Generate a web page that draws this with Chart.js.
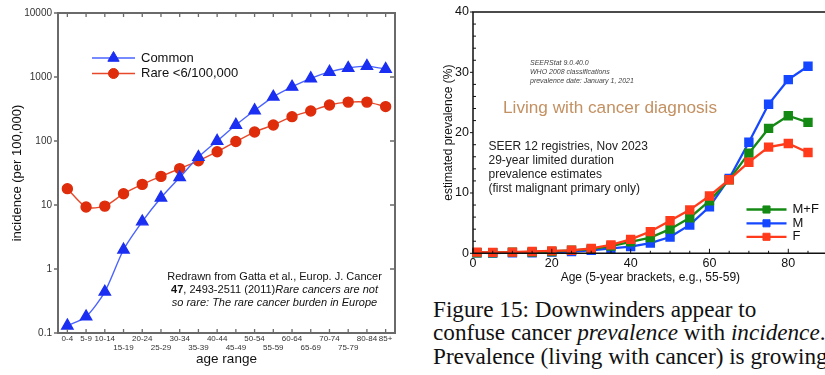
<!DOCTYPE html>
<html>
<head>
<meta charset="utf-8">
<script src="https://cdn.jsdelivr.net/npm/chart.js@4.4.1/dist/chart.umd.min.js"></script>
<style>
html, body { margin: 0; padding: 0; background: #fff; width: 825px; height: 375px; overflow: hidden; }
#left { position: absolute; left: 0; top: 0; }
#right { position: absolute; left: 420px; top: 0; }
#caption { position: absolute; left: 433px; top: 298px; font-family: "Liberation Serif", serif; font-size: 23.2px; line-height: 23.3px; white-space: nowrap; color: #111; }
</style>
</head>
<body>
<canvas id="left" width="420" height="375"></canvas>
<canvas id="right" width="415" height="290"></canvas>
<div id="caption">Figure 15: Downwinders appear to<br>confuse cancer <i>prevalence</i> with <i>incidence</i>.<br>Prevalence (living with cancer) is growing</div>
<script>
// left panel: incidence per 100,000 by age group (Gatta et al.)
const ageGroups = ['0-4','5-9','10-14','15-19','20-24','25-29','30-34','35-39','40-44','45-49',
                   '50-54','55-59','60-64','65-69','70-74','75-79','80-84','85+'];
const ageLabelRow = [1,1,1,2,1,2,1,2,1,2,1,2,1,2,1,2,1,1];
const commonRate = [0.13,0.18,0.44,2.0,5.5,13,27,56,100,178,300,490,700,950,1200,1380,1480,1330];
const rareRate = [18,9.3,9.6,15,21,28,37,49,68,98,138,178,240,295,365,405,405,345];
const incidenceTicks = [0.1,1,10,100,1000,10000];

// right panel: SEER 12 estimated prevalence (%)
const ageStart = [1,5,10,15,20,25,30,35,40,45,50,55,60,65,70,75,80,85];
const prevBoth = [0.1,0.1,0.2,0.2,0.3,0.5,0.7,1.2,1.9,2.6,4.0,5.9,8.7,12.2,16.6,20.7,22.8,21.7];
const prevMale = [0.1,0.05,0.1,0.1,0.2,0.3,0.5,0.8,1.1,1.7,2.7,4.7,7.7,12.4,18.4,24.7,28.8,31.0];
const prevFemale = [0.2,0.15,0.2,0.3,0.4,0.5,0.8,1.4,2.3,3.6,5.4,7.2,9.5,12.2,15.1,17.6,18.2,16.7];

Chart.defaults.font.family = '"Liberation Sans", Arial, sans-serif';
Chart.defaults.color = '#222';
Chart.defaults.animation = false;

function legendRow(ctx, ds, x0, x1, y, text, font) {
    ctx.save();
    ctx.strokeStyle = ds.borderColor;
    ctx.lineWidth = ds.borderWidth;
    ctx.beginPath(); ctx.moveTo(x0, y); ctx.lineTo(x1, y); ctx.stroke();
    ctx.fillStyle = ds.pointBackgroundColor;
    ctx.strokeStyle = ds.pointBorderColor;
    ctx.lineWidth = 1;
    Chart.helpers.drawPoint(ctx, {pointStyle: ds.pointStyle, radius: ds.pointRadius, rotation: 0, borderWidth: 1}, (x0 + x1) / 2, y);
    ctx.fillStyle = '#111';
    ctx.font = font;
    ctx.textBaseline = 'middle';
    ctx.textAlign = 'left';
    ctx.fillText(text, x1 + 6, y);
    ctx.restore();
}

const leftDecor = {
    id: 'leftDecor',
    afterDatasetsDraw(chart) {
        const ctx = chart.ctx, a = chart.chartArea;
        const xs = chart.scales.x, ys = chart.scales.y;
        ctx.save();
        ctx.strokeStyle = '#6a6a6a';
        ctx.lineWidth = 2;
        ctx.strokeRect(a.left, a.top, a.right - a.left, a.bottom - a.top);
        ctx.lineWidth = 1.3;
        ctx.beginPath();
        ageGroups.forEach((g, i) => {
            const px = xs.getPixelForValue(i);
            ctx.moveTo(px, a.bottom); ctx.lineTo(px, a.bottom - 4);
            ctx.moveTo(px, a.top); ctx.lineTo(px, a.top + 4);
        });
        incidenceTicks.forEach(v => {
            const py = ys.getPixelForValue(v);
            ctx.moveTo(a.left, py); ctx.lineTo(a.left - 4, py);
            ctx.moveTo(a.right, py); ctx.lineTo(a.right - 5, py);
        });
        ctx.stroke();

        legendRow(ctx, chart.data.datasets[0], 92, 135, 58, 'Common', '13px "Liberation Sans", Arial');
        legendRow(ctx, chart.data.datasets[1], 92, 135, 73.5, 'Rare <6/100,000', '13px "Liberation Sans", Arial');

        // citation block
        const cx = 274.5;
        ctx.fillStyle = '#111';
        ctx.textBaseline = 'middle';
        ctx.textAlign = 'left';
        const normal = '11px "Liberation Sans", Arial';
        const bold = 'bold 11px "Liberation Sans", Arial';
        const ital = 'italic 11px "Liberation Sans", Arial';
        const lines = [
            [[normal, 'Redrawn from Gatta et al., Europ. J. Cancer']],
            [[bold, '47'], [normal, ', 2493-2511 (2011)'], [ital, 'Rare cancers are not']],
            [[ital, 'so rare: The rare cancer burden in Europe']]
        ];
        lines.forEach((parts, li) => {
            let w = 0;
            parts.forEach(p => { ctx.font = p[0]; w += ctx.measureText(p[1]).width; });
            let x = cx - w / 2;
            parts.forEach(p => {
                ctx.font = p[0];
                ctx.fillText(p[1], x, 277 + li * 13.2);
                x += ctx.measureText(p[1]).width;
            });
        });
        ctx.restore();
    }
};

new Chart(document.getElementById('left').getContext('2d'), {
    type: 'line',
    data: {
        labels: ageGroups,
        datasets: [{
            label: 'Common',
            data: commonRate,
            borderColor: '#4a63ff',
            borderWidth: 1.4,
            pointStyle: 'triangle',
            pointRadius: 6.5,
            pointBackgroundColor: '#1b2ff2',
            pointBorderColor: '#1b2ff2',
            tension: 0.25
        }, {
            label: 'Rare <6/100,000',
            data: rareRate,
            borderColor: '#e8482a',
            borderWidth: 1.4,
            pointStyle: 'circle',
            pointRadius: 5,
            pointBackgroundColor: '#df2d0c',
            pointBorderColor: '#df2d0c',
            tension: 0.25
        }]
    },
    options: {
        responsive: false,
        clip: false,
        layout: { padding: { top: 13, right: 25, left: 0, bottom: 0 } },
        plugins: { legend: { display: false }, tooltip: { enabled: false } },
        scales: {
            x: {
                type: 'category',
                offset: true,
                grid: { display: false, drawTicks: false },
                border: { display: false },
                ticks: {
                    autoSkip: false, maxRotation: 0, padding: 1,
                    font: { size: 8, lineHeight: 1.15 }, color: '#333',
                    callback: (v, i) => ageLabelRow[i] === 2 ? ['', ageGroups[i]] : ageGroups[i]
                },
                title: { display: true, text: 'age range', font: { size: 13.5 }, color: '#111', padding: { top: 0, bottom: 8 } },
                afterFit: s => { s.height = 42; }
            },
            y: {
                type: 'logarithmic',
                min: 0.1, max: 10000,
                grid: { display: false, drawTicks: false },
                border: { display: false },
                afterBuildTicks: s => { s.ticks = incidenceTicks.map(v => ({ value: v })); },
                ticks: { padding: 6, font: { size: 10 }, color: '#333', callback: v => String(v) },
                title: { display: true, text: 'incidence (per 100,000)', font: { size: 13 }, color: '#111', padding: { top: 10, bottom: 0 } },
                afterFit: s => { s.width = 58; }
            }
        }
    },
    plugins: [leftDecor]
});

const rightDecor = {
    id: 'rightDecor',
    afterDatasetsDraw(chart) {
        const ctx = chart.ctx, a = chart.chartArea;
        const xs = chart.scales.x, ys = chart.scales.y;
        ctx.save();
        ctx.strokeStyle = '#111';
        ctx.lineWidth = 1.5;
        ctx.beginPath();
        ctx.moveTo(a.right, a.top); ctx.lineTo(a.left, a.top); ctx.lineTo(a.left, a.bottom); ctx.lineTo(a.right, a.bottom);
        ctx.stroke();
        ctx.lineWidth = 1;
        ctx.beginPath();
        ys.ticks.forEach(t => {
            const py = ys.getPixelForValue(t.value);
            if (t.value % 10 === 0) { ctx.moveTo(a.left, py); ctx.lineTo(a.left - 3, py); }
            else { ctx.moveTo(a.left, py); ctx.lineTo(a.left + 3, py); }
        });
        xs.ticks.forEach(t => {
            const px = xs.getPixelForValue(t.value);
            const len = t.value % 20 === 0 ? 4.5 : 2.5;
            ctx.moveTo(px, a.bottom); ctx.lineTo(px, a.bottom - len);
        });
        ctx.stroke();

        ctx.textBaseline = 'middle';
        ctx.textAlign = 'left';
        ctx.fillStyle = '#444';
        ctx.font = 'italic 7px "Liberation Sans", Arial';
        ['SEERStat 9.0.40.0', 'WHO 2008 classifications', 'prevalence date: January 1, 2021'].forEach((s, i) => {
            ctx.fillText(s, 110, 63.5 + i * 8.7);
        });
        ctx.fillStyle = '#c39061';
        ctx.font = '17.2px "Liberation Sans", Arial';
        ctx.fillText('Living with cancer diagnosis', 83, 108.5);
        ctx.fillStyle = '#222';
        ctx.font = '12px "Liberation Sans", Arial';
        ['SEER 12 registries, Nov 2023', '29-year limited duration', 'prevalence estimates', '(first malignant primary only)'].forEach((s, i) => {
            ctx.fillText(s, 68.5, 146.7 + i * 13.9);
        });
        const ds = chart.data.datasets;
        legendRow(ctx, ds[1], 326.5, 366.5, 209.5, 'M+F', '13px "Liberation Sans", Arial');
        legendRow(ctx, ds[2], 326.5, 366.5, 223.3, 'M', '13px "Liberation Sans", Arial');
        legendRow(ctx, ds[0], 326.5, 366.5, 236.8, 'F', '13px "Liberation Sans", Arial');
        ctx.restore();
    }
};

function series(label, values, color) {
    return {
        label: label,
        data: ageStart.map((x, i) => ({ x: x, y: values[i] })),
        borderColor: color,
        borderWidth: 2.3,
        pointStyle: 'rect',
        pointRadius: 5,
        pointBackgroundColor: color,
        pointBorderColor: color,
        tension: 0
    };
}

new Chart(document.getElementById('right').getContext('2d'), {
    type: 'line',
    data: {
        datasets: [
            series('F', prevFemale, '#ff3b1c'),
            series('M+F', prevBoth, '#148a14'),
            series('M', prevMale, '#1447ff')
        ]
    },
    options: {
        responsive: false,
        clip: false,
        layout: { padding: { top: 12, right: 5.4, left: 0, bottom: 0 } },
        plugins: { legend: { display: false }, tooltip: { enabled: false } },
        scales: {
            x: {
                type: 'linear', min: 0, max: 90,
                grid: { display: false, drawTicks: false },
                border: { display: false },
                ticks: { stepSize: 5, padding: 3, font: { size: 12.5 }, color: '#111', maxRotation: 0, autoSkip: false,
                         callback: v => (v % 20 === 0 && v <= 80) ? String(v) : '' },
                title: { display: true, text: 'Age (5-year brackets, e.g., 55-59)', font: { size: 12 }, color: '#111', padding: { top: 0, bottom: 4.8 } },
                afterFit: s => { s.height = 290 - 253.3; }
            },
            y: {
                type: 'linear', min: 0, max: 40,
                grid: { display: false, drawTicks: false },
                border: { display: false },
                ticks: { stepSize: 2, padding: 4, font: { size: 12.5 }, color: '#111', autoSkip: false,
                         callback: v => v % 10 === 0 ? String(v) : '' },
                title: { display: true, text: 'estimated prevalence (%)', font: { size: 12 }, color: '#111', padding: { top: 21, bottom: 0 } },
                afterFit: s => { s.width = 53; }
            }
        }
    },
    plugins: [rightDecor]
});
</script>
</body>
</html>
